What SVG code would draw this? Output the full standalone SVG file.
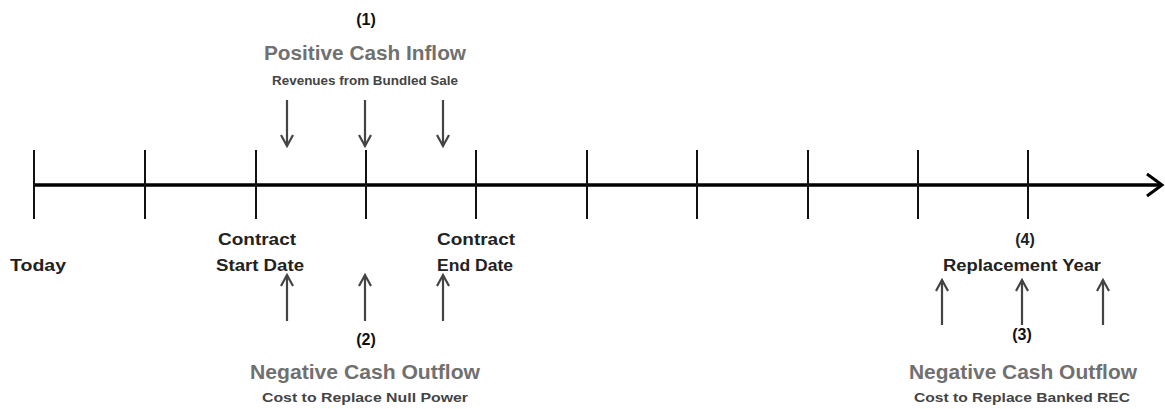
<svg xmlns="http://www.w3.org/2000/svg" width="1165" height="409" viewBox="0 0 1165 409">
<style>
text{font-family:"Liberation Sans",Arial,sans-serif;font-weight:bold;text-anchor:middle}
.num{font-size:16px;fill:#111}
.head{font-size:21px;fill:#707070}
.sub{font-size:13px;fill:#444}
.lbl{font-size:16px;fill:#222}
.tick{stroke:#111;stroke-width:2}
.arr{stroke:#444;stroke-width:2.2;fill:none}
</style>
<defs>
<marker id="ah" viewBox="0 0 14 14" refX="12" refY="7" markerWidth="14" markerHeight="14" markerUnits="userSpaceOnUse" orient="auto">
<path d="M1,1 L12,7 L1,13" fill="none" stroke="#444" stroke-width="2.2"/>
</marker>
</defs>
<rect width="1165" height="409" fill="#fff"/>
<g id="timeline">
<line x1="34" y1="185" x2="1161" y2="185" stroke="#000" stroke-width="3.5"/>
<path d="M1147,174 L1162,185 L1147,196" fill="none" stroke="#000" stroke-width="3"/>
<line class="tick" x1="34" y1="150" x2="34" y2="219"/>
<line class="tick" x1="145" y1="150" x2="145" y2="219"/>
<line class="tick" x1="256" y1="150" x2="256" y2="219"/>
<line class="tick" x1="366" y1="150" x2="366" y2="219"/>
<line class="tick" x1="476" y1="150" x2="476" y2="219"/>
<line class="tick" x1="587" y1="150" x2="587" y2="219"/>
<line class="tick" x1="697" y1="150" x2="697" y2="219"/>
<line class="tick" x1="808" y1="150" x2="808" y2="219"/>
<line class="tick" x1="918" y1="150" x2="918" y2="219"/>
<line class="tick" x1="1028" y1="150" x2="1028" y2="219"/>
</g>
<g id="connectors">
<line class="arr" x1="287" y1="100" x2="287" y2="146" marker-end="url(#ah)"/>
<line class="arr" x1="365" y1="100" x2="365" y2="146" marker-end="url(#ah)"/>
<line class="arr" x1="443" y1="100" x2="443" y2="146" marker-end="url(#ah)"/>
<line class="arr" x1="287" y1="321" x2="287" y2="275" marker-end="url(#ah)"/>
<line class="arr" x1="365" y1="321" x2="365" y2="275" marker-end="url(#ah)"/>
<line class="arr" x1="443" y1="321" x2="443" y2="275" marker-end="url(#ah)"/>
<line class="arr" x1="942" y1="325" x2="942" y2="280" marker-end="url(#ah)"/>
<line class="arr" x1="1022" y1="325" x2="1022" y2="280" marker-end="url(#ah)"/>
<line class="arr" x1="1103" y1="325" x2="1103" y2="280" marker-end="url(#ah)"/>
</g>
<g id="node-positive">
<text class="num" x="366" y="25">(1)</text>
<text class="head" x="365" y="60" textLength="202" lengthAdjust="spacingAndGlyphs">Positive Cash Inflow</text>
<text class="sub" x="365" y="85" textLength="186" lengthAdjust="spacingAndGlyphs">Revenues from Bundled Sale</text>
</g>
<g id="node-today">
<text class="lbl" x="38" y="271" textLength="56" lengthAdjust="spacingAndGlyphs">Today</text>
</g>
<g id="node-start">
<text class="lbl" x="257" y="245" textLength="78" lengthAdjust="spacingAndGlyphs">Contract</text>
<text class="lbl" x="260" y="271" textLength="88" lengthAdjust="spacingAndGlyphs">Start Date</text>
</g>
<g id="node-end">
<text class="lbl" x="476" y="245" textLength="78" lengthAdjust="spacingAndGlyphs">Contract</text>
<text class="lbl" x="475" y="271" textLength="76" lengthAdjust="spacingAndGlyphs">End Date</text>
</g>
<g id="node-negative-2">
<text class="num" x="366" y="345">(2)</text>
<text class="head" x="365" y="379" textLength="230" lengthAdjust="spacingAndGlyphs">Negative Cash Outflow</text>
<text class="sub" x="365" y="402" textLength="206" lengthAdjust="spacingAndGlyphs">Cost to Replace Null Power</text>
</g>
<g id="node-replacement">
<text class="lbl" x="1025" y="245">(4)</text>
<text class="lbl" x="1022" y="271" textLength="158" lengthAdjust="spacingAndGlyphs">Replacement Year</text>
</g>
<g id="node-negative-3">
<text class="num" x="1022" y="340">(3)</text>
<text class="head" x="1023" y="379" textLength="228" lengthAdjust="spacingAndGlyphs">Negative Cash Outflow</text>
<text class="sub" x="1022" y="402" textLength="216" lengthAdjust="spacingAndGlyphs">Cost to Replace Banked REC</text>
</g>
</svg>
